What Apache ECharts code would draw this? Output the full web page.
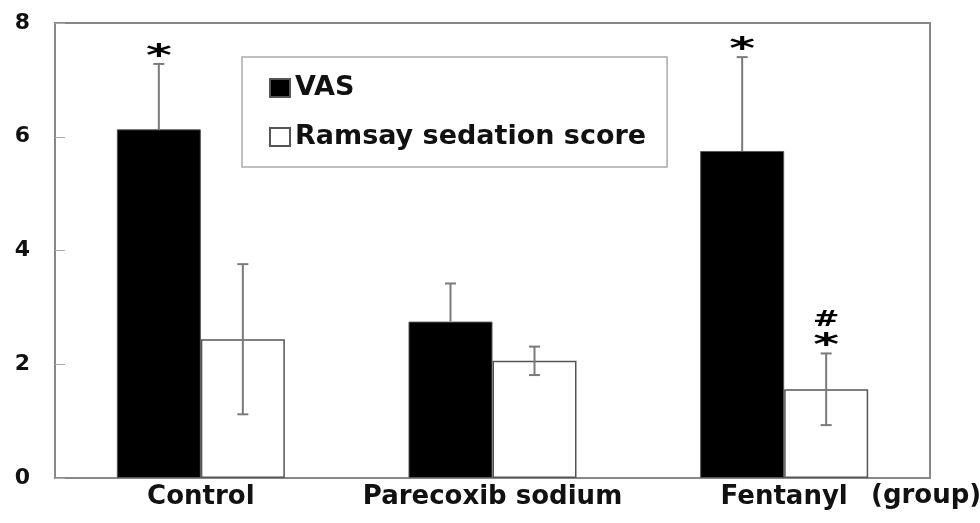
<!DOCTYPE html>
<html><head><meta charset="utf-8">
<script src="https://cdn.jsdelivr.net/npm/echarts@6/dist/echarts.min.js"></script>
<style>html,body{margin:0;padding:0;background:#fff}#c{width:980px;height:523px}</style>
</head><body><div id="c"></div>
<script>
const categories = ['Control', 'Parecoxib sodium', 'Fentanyl'];
const vasMean = [6.13, 2.75, 5.75];
const vasSD = [1.15, 0.67, 1.65];
const ramsayMean = [2.44, 2.06, 1.56];
const ramsaySD = [1.32, 0.25, 0.63];
const vasStar = ['*', '', '*'];
const ramsayStar = ['', '', '*'];
const ramsayHash = ['', '', '#'];
const axisName = '(group)';

const FONT = '"DejaVu Sans", sans-serif';
const chart = echarts.init(document.getElementById('c'), null, {renderer: 'canvas'});

function mark(text, x, y, size, sx, sy) {
  return {
    type: 'text', x: x, y: y, scaleX: sx, scaleY: sy,
    style: {text: text, x: 0, y: 0, align: 'center', verticalAlign: 'middle', font: 'bold ' + size + 'px ' + FONT, fill: '#000'}
  };
}

function errorSeries(name, means, sds, stars, hashes, offset, both) {
  return {
    type: 'custom', name: name + ' SD', silent: true, z: 5,
    data: means.map((m, i) => [i, m, sds[i]]),
    dimensions: ['x', 'y', 'sd'],
    encode: {x: 0, y: 1},
    renderItem: function (params, api) {
      const i = api.value(0), m = api.value(1), s = api.value(2);
      const c = api.coord([i, m]);
      const x = c[0] + offset;
      const top = api.coord([i, m + s])[1];
      const bot = both ? api.coord([i, m - s])[1] : c[1];
      const cap = 5.5;
      const st = {stroke: '#7a7a7a', lineWidth: 2};
      const children = [
        {type: 'line', shape: {x1: x, y1: top, x2: x, y2: bot}, style: st},
        {type: 'line', shape: {x1: x - cap, y1: top, x2: x + cap, y2: top}, style: st}
      ];
      if (both) children.push({type: 'line', shape: {x1: x - cap, y1: bot, x2: x + cap, y2: bot}, style: st});
      if (stars[i]) children.push(mark(stars[i], x, top - 7, 38, 1.3, 0.8));
      if (hashes[i]) children.push(mark(hashes[i], x, top - 33, 22, 1.45, 0.95));
      return {type: 'group', children: children};
    }
  };
}

chart.setOption({
  animation: false,
  backgroundColor: '#fff',
  grid: {left: 55, top: 23, right: 50, bottom: 45, show: true, borderColor: '#888', borderWidth: 2, backgroundColor: 'transparent'},
  legend: {
    data: ['VAS', 'Ramsay sedation score'],
    orient: 'vertical', left: 242, top: 57,
    padding: [16, 21, 15, 27],
    borderColor: '#aaa', borderWidth: 1.5,
    itemWidth: 20, itemHeight: 18, itemGap: 19,
    icon: 'rect',
    textStyle: {fontFamily: FONT, fontWeight: 'bold', fontSize: 27, color: '#111', lineHeight: 30}
  },
  xAxis: {
    type: 'category', data: categories,
    axisLine: {lineStyle: {color: '#888', width: 2}},
    axisTick: {inside: true, length: 6, lineStyle: {color: '#aaa', width: 1}},
    axisLabel: {interval: 0, hideOverlap: false, fontFamily: FONT, fontWeight: 'bold', fontSize: 26, color: '#111', margin: 6}
  },
  yAxis: {
    type: 'value', min: 0, max: 8, interval: 2,
    axisLine: {show: true, lineStyle: {color: '#888', width: 2}},
    axisTick: {show: true, inside: true, length: 10, lineStyle: {color: '#aaa', width: 1}},
    splitLine: {show: false},
    axisLabel: {fontFamily: FONT, fontWeight: 'bold', fontSize: 22, color: '#111', margin: 25}
  },
  graphic: [{type: 'text', left: 871, top: 483, style: {text: axisName, font: 'bold 26px ' + FONT, fill: '#111'}}],
  series: [
    {name: 'VAS', type: 'bar', data: vasMean, barWidth: 84, barGap: '0%',
      itemStyle: {color: '#000', borderColor: '#555', borderWidth: 1}},
    {name: 'Ramsay sedation score', type: 'bar', data: ramsayMean, barWidth: 84, barGap: '0%',
      itemStyle: {color: '#fff', borderColor: '#555', borderWidth: 1.5}},
    errorSeries('VAS', vasMean, vasSD, vasStar, ['', '', ''], -42, false),
    errorSeries('Ramsay', ramsayMean, ramsaySD, ramsayStar, ramsayHash, 42, true)
  ]
});
</script></body></html>
